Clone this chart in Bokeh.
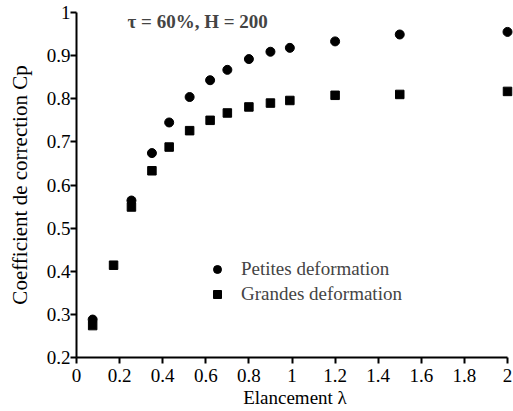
from bokeh.plotting import figure
from bokeh.models import Legend, LegendItem, Label, FixedTicker, Range1d
from bokeh.embed import file_html
from bokeh.resources import INLINE

x_petites = [0.075, 0.255, 0.35, 0.43, 0.525, 0.62, 0.70, 0.80, 0.90, 0.99, 1.2, 1.5, 2.0]
y_petites = [0.288, 0.564, 0.674, 0.745, 0.804, 0.843, 0.867, 0.892, 0.909, 0.918, 0.933, 0.949, 0.955]
x_grandes = [0.075, 0.172, 0.255, 0.35, 0.43, 0.525, 0.62, 0.70, 0.80, 0.90, 0.99, 1.2, 1.5, 2.0]
y_grandes = [0.274, 0.414, 0.549, 0.633, 0.688, 0.726, 0.75, 0.767, 0.781, 0.79, 0.796, 0.808, 0.810, 0.817]
x_ticks = [0, 0.2, 0.4, 0.6, 0.8, 1, 1.2, 1.4, 1.6, 1.8, 2]
y_ticks = [0.2, 0.3, 0.4, 0.5, 0.6, 0.7, 0.8, 0.9, 1]
FONT = "Liberation Serif"

X0, X1 = 0, 2
Y0, Y1 = 0.2, 1.0
PX_PER_X = 215.5          # frame pixels per x unit
RIGHT_PAD_PX = 6          # room right of x = 2 so the last markers are not clipped

p = figure(width=513, height=411, output_backend="svg", toolbar_location=None,
           x_range=Range1d(X0, X1 + RIGHT_PAD_PX / PX_PER_X), y_range=Range1d(Y0, Y1),
           min_border_left=76, min_border_right=0, min_border_top=12, min_border_bottom=54)
p.outline_line_color = None
p.xgrid.grid_line_color = None
p.ygrid.grid_line_color = None

p.axis.axis_line_width = 2
p.axis.axis_line_color = "black"
p.axis.major_tick_line_width = 2
p.axis.major_tick_line_color = "black"
p.axis.major_tick_out = 6
p.axis.major_tick_in = 0
p.axis.minor_tick_line_color = None
p.axis.major_label_text_font = FONT
p.axis.major_label_text_font_size = "19px"
p.axis.major_label_text_color = "black"
p.axis.axis_label_text_font = FONT
p.axis.axis_label_text_font_style = "normal"
p.axis.axis_label_text_color = "black"
p.xaxis.axis_label_text_font_size = "19px"
p.yaxis.axis_label_text_font_size = "21px"
p.xaxis.bounds = (X0, X1)
p.yaxis.bounds = (Y0, Y1)

p.xaxis.ticker = FixedTicker(ticks=x_ticks)
p.yaxis.ticker = FixedTicker(ticks=y_ticks)
p.xaxis.major_label_overrides = {0: "0", 1: "1", 2: "2"}
p.yaxis.major_label_overrides = {1: "1"}
p.xaxis.axis_label = "Elancement λ"
p.yaxis.axis_label = "Coefficient de correction Cp"
p.xaxis.major_label_standoff = 5
p.xaxis.axis_label_standoff = 2
p.yaxis.major_label_standoff = 0
p.yaxis.axis_label_standoff = 12

r1 = p.scatter(x_petites, y_petites, marker="circle", size=9, fill_color="black", line_color="black")
r2 = p.scatter(x_grandes, y_grandes, marker="square", size=8.5, fill_color="black", line_color="black")

legend = Legend(items=[LegendItem(label="Petites deformation", renderers=[r1]),
                       LegendItem(label="Grandes deformation", renderers=[r2])],
                location=(131, 52), padding=0, margin=0, spacing=3,
                label_standoff=14, glyph_width=20, glyph_height=20, label_height=20,
                label_text_font=FONT, label_text_font_size="19px",
                background_fill_alpha=0, border_line_alpha=0)
p.add_layout(legend, "center")

p.add_layout(Label(x=0.237, y=0.979, text="τ = 60%, H = 200", text_font=FONT,
                   text_font_size="19px", text_font_style="bold", text_baseline="middle"))

open("out.html", "w").write(file_html(p, INLINE))
